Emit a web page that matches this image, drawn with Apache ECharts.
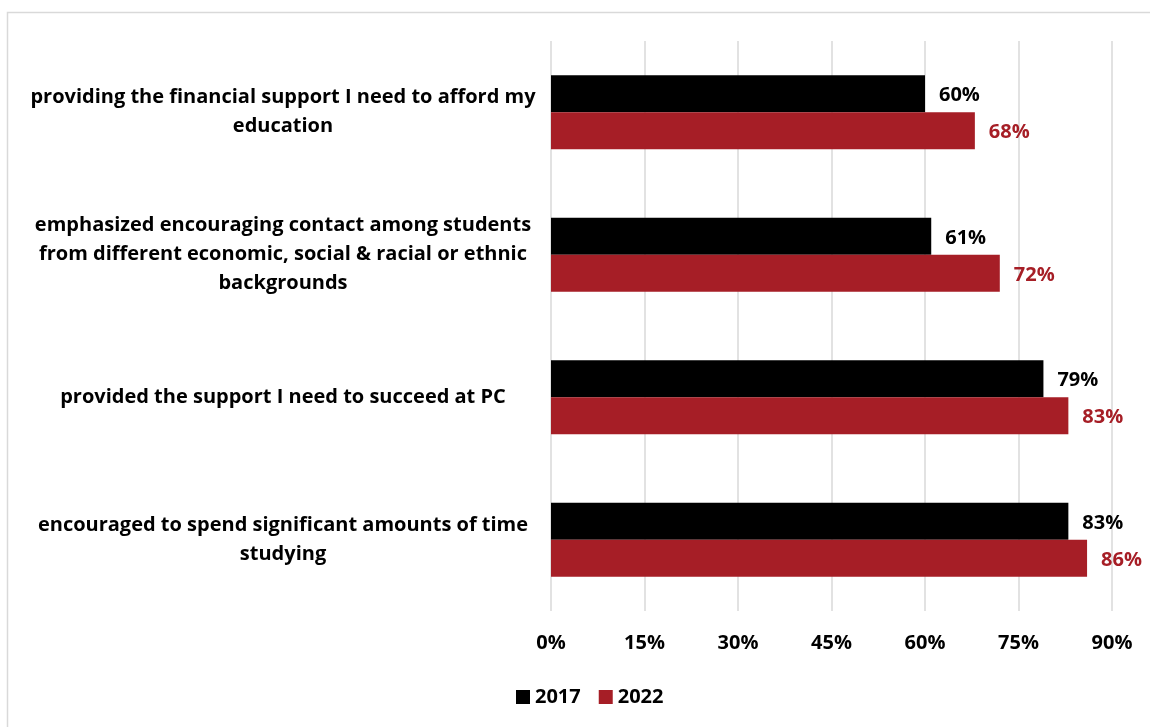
<!DOCTYPE html>
<html>
<head>
<meta charset="utf-8">
<script src="https://cdn.jsdelivr.net/npm/echarts@6/dist/echarts.min.js"></script>
<style>
  html, body { margin: 0; padding: 0; background: #fff; }
  #chart { width: 1150px; height: 727px; }
</style>
</head>
<body>
<div id="chart"></div>
<script>
// Survey statements, top to bottom
const categories = [
  'providing the financial support I need to afford my\neducation',
  'emphasized encouraging contact among students\nfrom different economic, social & racial or ethnic\nbackgrounds',
  'provided the support I need to succeed at PC',
  'encouraged to spend significant amounts of time\nstudying'
];
const values2017 = [60, 61, 79, 83];
const values2022 = [68, 72, 83, 86];
const tickValues = [0, 15, 30, 45, 60, 75, 90];

const FONT = '"Open Sans", Lato, sans-serif';
const RED = '#a61e26';

const chart = echarts.init(document.getElementById('chart'));
chart.setOption({
  animation: false,
  backgroundColor: '#fff',
  graphic: [{
    type: 'rect',
    shape: { x: 7.5, y: 12.5, width: 1300, height: 900 },
    style: { fill: 'none', stroke: '#d9d9d9', lineWidth: 1.5 },
    silent: true
  }],
  grid: { left: 551, right: 38, top: 41, bottom: 116 },
  legend: {
    top: 682,
    left: 511,
    itemWidth: 14,
    itemHeight: 14,
    itemGap: 18,
    icon: 'rect',
    textStyle: { fontFamily: FONT, fontWeight: 'bold', fontSize: 20, color: '#000' },
    data: ['2017', '2022']
  },
  xAxis: {
    type: 'value',
    min: tickValues[0],
    max: tickValues[tickValues.length - 1],
    interval: 15,
    axisLine: { show: false },
    axisTick: { show: false },
    splitLine: { show: true, lineStyle: { color: '#d9d9d9', width: 1.5 } },
    axisLabel: {
      margin: 22,
      formatter: v => v + '%',
      fontFamily: FONT, fontWeight: 'bold', fontSize: 20, color: '#000'
    }
  },
  yAxis: {
    type: 'category',
    inverse: true,
    data: categories,
    axisLine: { show: false },
    axisTick: { show: false },
    axisLabel: {
      margin: 268,
      align: 'center',
      lineHeight: 29,
      fontFamily: FONT, fontWeight: 'bold', fontSize: 20, color: '#000'
    }
  },
  series: [
    {
      name: '2017',
      type: 'bar',
      data: values2017,
      barWidth: 37,
      barGap: '0%',
      itemStyle: { color: '#000' },
      label: {
        show: true, position: 'right', distance: 14, offset: [0, 2],
        formatter: p => p.value + '%',
        fontFamily: FONT, fontWeight: 'bold', fontSize: 20, color: '#000'
      }
    },
    {
      name: '2022',
      type: 'bar',
      data: values2022,
      barWidth: 37,
      barGap: '0%',
      itemStyle: { color: RED },
      label: {
        show: true, position: 'right', distance: 14, offset: [0, 2],
        formatter: p => p.value + '%',
        fontFamily: FONT, fontWeight: 'bold', fontSize: 20, color: RED
      }
    }
  ]
});
</script>
</body>
</html>
